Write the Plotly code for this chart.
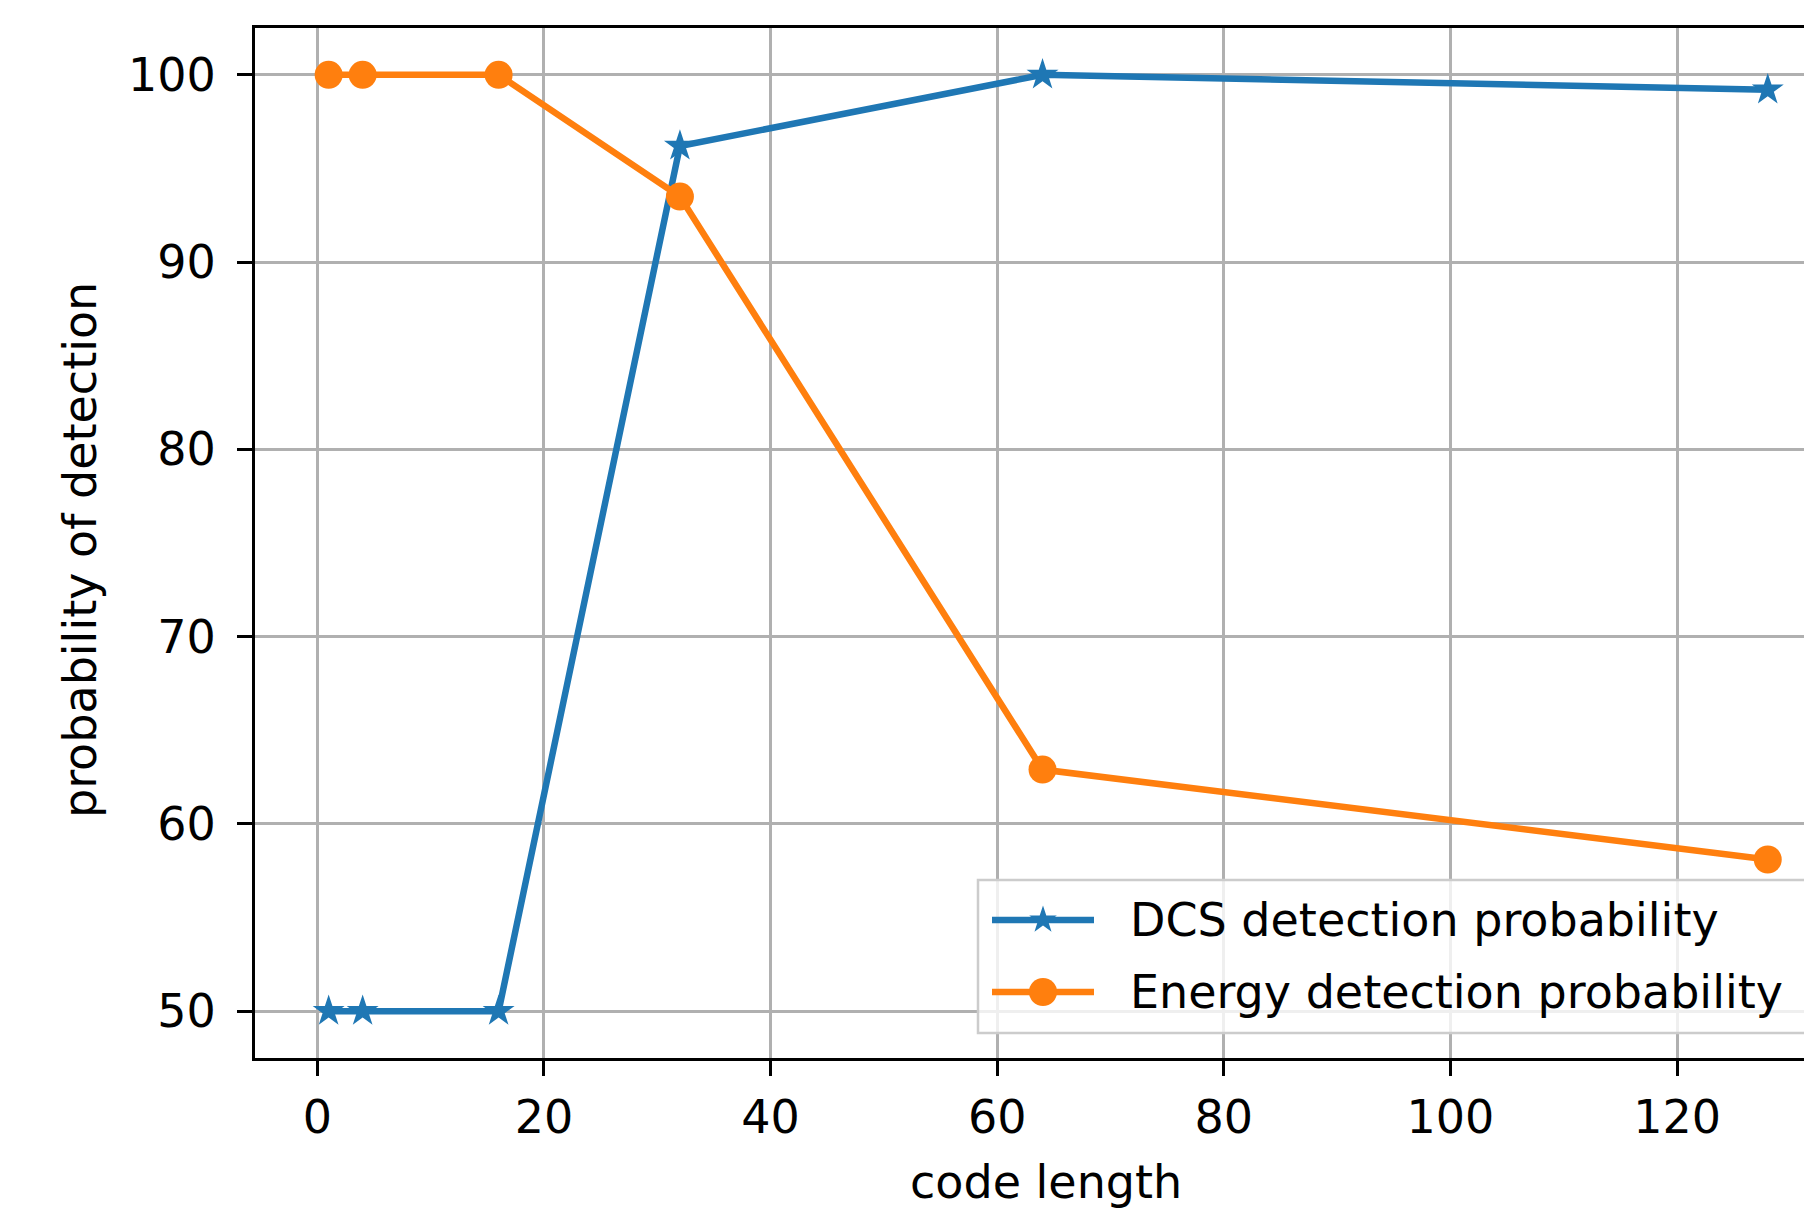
import math
import plotly.graph_objects as go

# ---- data ----
code_length = [1, 4, 16, 32, 64, 128]
dcs_prob = [50, 50, 50, 96.2, 100, 99.2]
energy_prob = [100, 100, 100, 93.5, 62.9, 58.1]
series_names = ["DCS detection probability", "Energy detection probability"]
x_ticks = [0, 20, 40, 60, 80, 100, 120]
y_ticks = [50, 60, 70, 80, 90, 100]
x_title = "code length"
y_title = "probability of detection"

# ---- style ----
BLUE = "#1f77b4"
ORANGE = "#ff7f0e"
FONT = "DejaVu Sans"
FS = 46
W, H = 1804, 1210
L, R, T, B = 255, 0, 28, 152
plot_w = W - L - R
plot_h = H - T - B


def px_x(p):
    return (p - L) / plot_w


def px_y(p):
    return (H - B - p) / plot_h


def star_path(r_out, r_in):
    pts = []
    for i in range(10):
        ang = math.pi / 2 + i * math.pi / 5
        r = r_out if i % 2 == 0 else r_in
        pts.append((r * math.cos(ang), r * math.sin(ang)))
    return "M" + "L".join(f"{x:.2f},{y:.2f}" for x, y in pts) + "Z"


fig = go.Figure()
fig.add_trace(go.Scatter(
    x=code_length, y=dcs_prob, mode="lines+markers", name=series_names[0],
    line=dict(color=BLUE, width=6.5),
    marker=dict(symbol="star", size=24, color=BLUE, line=dict(width=0)),
    showlegend=False, cliponaxis=False))
fig.add_trace(go.Scatter(
    x=code_length, y=energy_prob, mode="lines+markers", name=series_names[1],
    line=dict(color=ORANGE, width=6.5),
    marker=dict(symbol="circle", size=28, color=ORANGE, line=dict(width=0)),
    showlegend=False, cliponaxis=False))

axis_common = dict(
    showline=True, linecolor="black", linewidth=3,
    showgrid=True, gridcolor="#b0b0b0", gridwidth=2.5,
    zeroline=False, ticks="outside", ticklen=15, tickwidth=2.5, tickcolor="black",
    tickfont=dict(family=FONT, size=FS, color="black"),
)
fig.update_xaxes(range=[-5.5, 131.2], tickvals=x_ticks, mirror=True,
                 ticklabelstandoff=2, **axis_common)
fig.update_yaxes(range=[47.5, 102.5], tickvals=y_ticks, mirror=False,
                 ticklabelstandoff=12, **axis_common)

shapes = []
annotations = []
# legend box
shapes.append(dict(type="rect", xref="paper", yref="paper",
                   x0=px_x(978), x1=px_x(1840), y0=px_y(1033), y1=px_y(880),
                   fillcolor="rgba(255,255,255,0.8)",
                   line=dict(color="#cccccc", width=2.5), layer="above"))
rows = [920, 992]
colors = [BLUE, ORANGE]
for i, (name, col, ry) in enumerate(zip(series_names, colors, rows)):
    shapes.append(dict(type="line", xref="paper", yref="paper",
                       x0=px_x(992), x1=px_x(1094), y0=px_y(ry), y1=px_y(ry),
                       line=dict(color=col, width=6.5), layer="above"))
    if i == 0:
        shapes.append(dict(type="path", xref="paper", yref="paper",
                           xsizemode="pixel", ysizemode="pixel",
                           xanchor=px_x(1043), yanchor=px_y(ry),
                           path=star_path(14.5, 5.6), fillcolor=col,
                           line=dict(width=0), layer="above"))
    else:
        shapes.append(dict(type="circle", xref="paper", yref="paper",
                           xsizemode="pixel", ysizemode="pixel",
                           xanchor=px_x(1043), yanchor=px_y(ry),
                           x0=-14, x1=14, y0=-14, y1=14,
                           fillcolor=col, line=dict(width=0), layer="above"))
    annotations.append(dict(text=name, xref="paper", yref="paper",
                            x=px_x(1128), y=px_y(ry), xanchor="left", yanchor="middle",
                            showarrow=False, font=dict(family=FONT, size=FS, color="black")))

annotations.append(dict(text=x_title, xref="x", yref="paper", x=64.3, y=px_y(1182),
                        xanchor="center", yanchor="middle", showarrow=False,
                        font=dict(family=FONT, size=FS, color="black")))
annotations.append(dict(text=y_title, xref="paper", yref="paper", x=px_x(80), y=px_y(550),
                        xanchor="center", yanchor="middle", textangle=-90, showarrow=False,
                        font=dict(family=FONT, size=FS, color="black")))

fig.update_layout(
    width=W, height=H,
    margin=dict(l=L, r=R, t=T, b=B, autoexpand=False),
    paper_bgcolor="white", plot_bgcolor="white",
    showlegend=False,
    shapes=shapes, annotations=annotations,
    font=dict(family=FONT, size=FS, color="black"),
)

fig.write_html("out.html")
